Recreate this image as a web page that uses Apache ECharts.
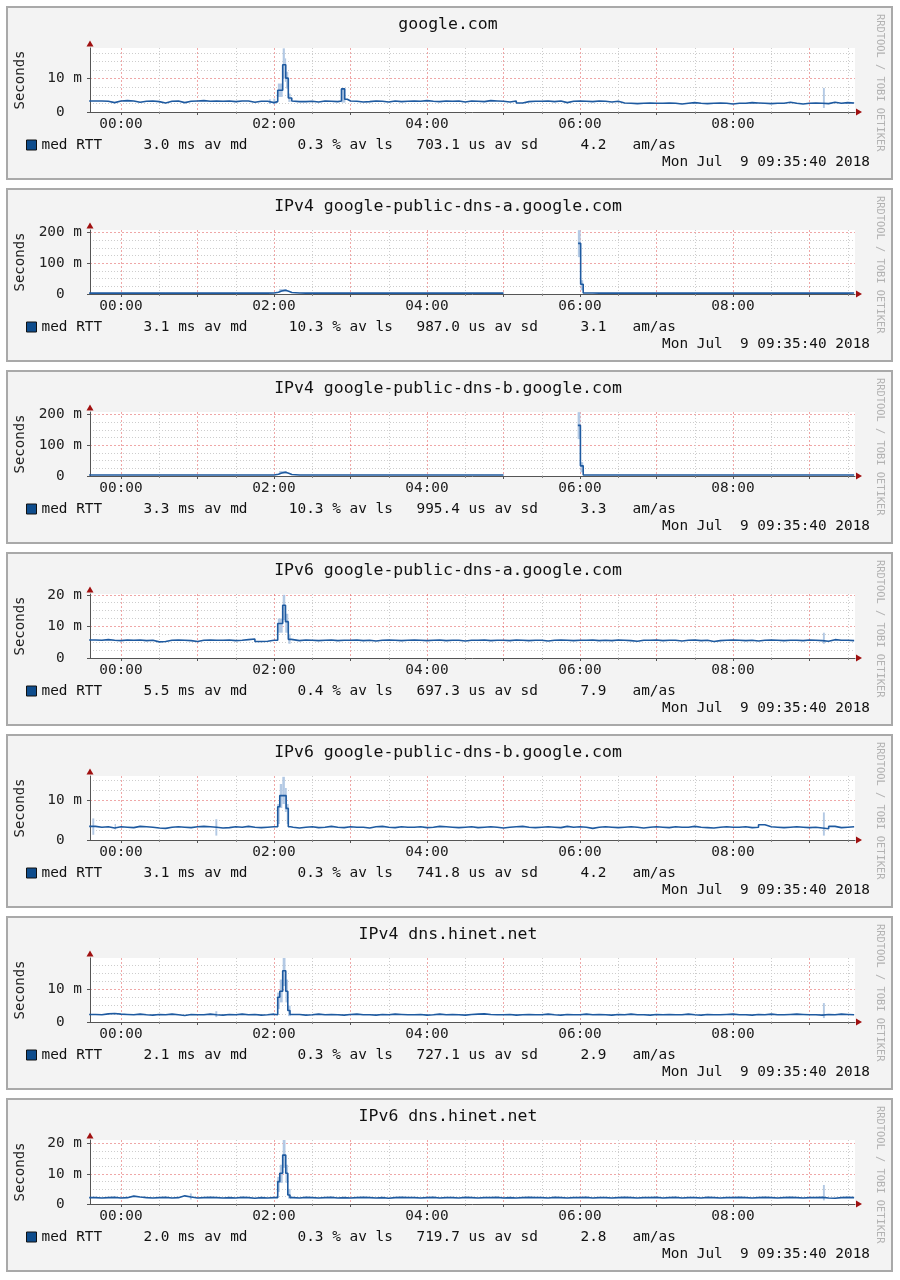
<!DOCTYPE html>
<html><head><meta charset="utf-8">
<script src="https://cdn.jsdelivr.net/npm/echarts@6/dist/echarts.min.js"></script>
<style>html,body{margin:0;padding:0;background:#fff}#c{width:900px;height:1280px}</style>
</head><body><div id="c"></div><script>
// ---------- data ----------
const titles = ['google.com','IPv4 google-public-dns-a.google.com','IPv4 google-public-dns-b.google.com',
  'IPv6 google-public-dns-a.google.com','IPv6 google-public-dns-b.google.com','IPv4 dns.hinet.net','IPv6 dns.hinet.net'];
const dateText = 'Mon Jul  9 09:35:40 2018';
// legend stats: median ms, loss %, stddev us, am/as
const stats = [['3.0','0.3','703.1','4.2'],['3.1','10.3','987.0','3.1'],['3.3','10.3','995.4','3.3'],
  ['5.5','0.4','697.3','7.9'],['3.1','0.3','741.8','4.2'],['2.1','0.3','727.1','2.9'],['2.0','0.3','719.7','2.8']];
// x: minutes since 00:00 (window 23:35:40 .. 09:35:40)
const X_MIN = -24.333, X_MAX = 575.667;
const hourTicks = [0,60,120,180,240,300,360,420,480,540];
const halfHourTicks = [30,90,150,210,270,330,390,450,510,570];
const labelTicks = [0,120,240,360,480];
// y scales (ms)
const yMax = [19.1,208.5,208.5,20.25,16,19.6,21.2];
const yMajor = [[0,10],[0,100,200],[0,100,200],[0,10,20],[0,10],[0,10],[0,10,20]];
const yMinor = [[2.5,5,7.5,12.5,15,17.5],[25,50,75,125,150,175],[25,50,75,125,150,175],
  [2.5,5,7.5,12.5,15,17.5],[2.5,5,7.5,12.5,15],[2.5,5,7.5,12.5,15,17.5],[2.5,5,7.5,12.5,15,17.5]];
// sample times (minutes)
const sampleMinutes = [-25,-20,-15,-10,-5,0,5,10,15,20,25,30,35,40,45,50,55,60,65,70,75,80,85,90,95,100,105,110,115,120,
  125,130,135,140,145,150,155,160,165,170,175,180,185,190,195,200,205,210,215,220,225,230,235,240,245,250,255,260,265,270,
  275,280,285,290,295,300,305,310,315,320,325,330,335,340,345,350,355,360,365,370,375,380,385,390,395,400,405,410,415,420,
  425,430,435,440,445,450,455,460,465,470,475,480,485,490,495,500,505,510,515,520,525,530,535,540,545,550,555,560,565,570,575];
const N = null;
const med1 = [3.3,3.3,3.2,2.8,3.3,3.4,3.3,2.9,3.2,3.3, 3.1,2.7,3.2,3.3,2.8,3.2,3.3,3.4,3.2,3.3,
  3.2,3.3,3.1,3.3,3.3,2.9,3.2,3.2,2.8,3.1, 3.2,3.2,3.3,3.1,3.2,3.0,3.3,3.2,3.1,3.3,
  3.4,3.2,3.0,3.1,3.3,3.2,3.0,3.3,3.1,3.2, 3.3,3.2,3.4,3.2,3.1,3.3,3.2,3.3,3.0,3.3,
  3.2,3.1,3.4,3.3,3.2,3.0,3.3,2.7,3.1,3.2, 3.2,3.3,3.1,3.3,2.8,3.2,3.3,3.2,3.1,3.3,
  3.2,3.0,3.2,2.7,2.6,2.5,2.6,2.7,2.6,2.6, 2.7,2.6,2.4,2.6,2.8,2.6,2.5,2.6,2.7,2.6,
  2.4,2.6,2.6,2.8,2.7,2.6,2.5,2.6,2.6,2.9, 2.6,2.4,2.6,2.7,2.6,2.5,2.9,2.6,2.8,2.7,2.7];
const med2 = [3.0,2.9,3.1,3.0,2.8,3.0,3.1,2.9,3.0,3.0, 3.1,3.0,2.9,3.0,3.2,3.0,2.9,3.1,3.0,2.9,
  3.0,3.1,3.0,2.9,3.0,3.0,3.2,3.0,3.1,3.3, 3.5,3.2,3.1,3.0,2.9,3.0,3.1,3.0,2.9,3.0,
  3.0,3.1,2.9,3.0,3.0,3.1,3.0,2.9,3.0,3.1, 3.0,3.0,2.9,3.1,3.0,3.0,3.1,2.9,3.0,3.0,
  3.1,3.0,2.9,3.0,3.0,N,N,N,N,N, N,N,N,N,N,N,N,3.0,3.1,3.0,
  2.9,3.0,3.1,3.0,3.0,2.9,3.0,3.1,3.0,3.0, 3.1,3.0,2.9,3.0,3.0,3.1,3.0,2.9,3.0,3.0,
  3.0,3.1,3.0,2.9,3.0,3.0,3.1,3.0,3.0,2.9, 3.0,3.1,3.0,3.0,2.9,3.0,3.1,3.0,3.0,3.1,3.0];
const med3 = [3.3,3.2,3.4,3.3,3.1,3.3,3.4,3.2,3.3,3.3, 3.4,3.3,3.2,3.3,3.5,3.3,3.2,3.4,3.3,3.2,
  3.3,3.4,3.3,3.2,3.3,3.3,3.5,3.3,3.4,3.6, 3.8,3.5,3.4,3.3,3.2,3.3,3.4,3.3,3.2,3.3,
  3.3,3.4,3.2,3.3,3.3,3.4,3.3,3.2,3.3,3.4, 3.3,3.3,3.2,3.4,3.3,3.3,3.4,3.2,3.3,3.3,
  3.4,3.3,3.2,3.3,3.3,N,N,N,N,N, N,N,N,N,N,N,N,3.3,3.4,3.3,
  3.2,3.3,3.4,3.3,3.3,3.2,3.3,3.4,3.3,3.3, 3.4,3.3,3.2,3.3,3.3,3.4,3.3,3.2,3.3,3.3,
  3.3,3.4,3.3,3.2,3.3,3.3,3.4,3.3,3.3,3.2, 3.3,3.4,3.3,3.3,3.2,3.3,3.4,3.3,3.3,3.4,3.3];
const med4 = [5.7,5.6,5.8,5.6,5.5,5.7,5.6,5.7,5.5,5.6, 5.1,5.2,5.6,5.7,5.6,5.5,5.2,5.6,5.7,5.6,
  5.6,5.7,5.5,5.6,5.8,6.0,5.2,5.3,5.6,5.6, 5.6,5.6,5.5,5.7,5.6,5.5,5.6,5.7,5.5,5.6,
  5.6,5.7,5.5,5.6,5.4,5.6,5.7,5.6,5.5,5.6, 5.7,5.6,5.5,5.6,5.7,5.5,5.6,5.6,5.4,5.6,
  5.6,5.7,5.5,5.6,5.6,5.5,5.7,5.6,5.5,5.6, 5.6,5.4,5.6,5.7,5.6,5.5,5.6,5.6,5.7,5.5,
  5.6,5.5,5.7,5.6,5.5,5.3,5.6,5.6,5.7,5.5, 5.6,5.6,5.4,5.6,5.7,5.5,5.6,5.2,5.5,5.6,
  5.7,5.6,5.5,5.6,5.4,5.6,5.7,5.6,5.5,5.6, 5.6,5.5,5.7,5.6,5.5,5.3,5.8,5.6,5.6,5.5,5.6];
const med5 = [3.4,3.2,3.3,3.0,3.3,3.2,3.1,3.4,3.3,3.2, 3.0,2.9,3.2,3.3,3.2,3.1,3.3,3.4,3.3,3.2,
  3.0,3.1,3.3,3.2,3.4,3.2,3.1,3.2,3.3,3.3, 3.2,3.2,3.0,3.2,3.3,3.1,3.2,3.4,3.2,3.1,
  3.3,3.2,3.2,3.0,3.3,3.4,3.2,3.1,3.3,3.2, 3.2,3.3,3.1,3.2,3.4,3.3,3.2,3.1,3.2,3.3,
  3.1,3.2,3.3,3.2,3.0,3.2,3.3,3.4,3.2,3.1, 3.2,3.3,3.2,3.1,3.4,3.2,3.3,3.2,2.9,3.2,
  3.3,3.2,3.1,3.2,3.3,3.2,3.0,3.2,3.3,3.2, 3.1,3.3,3.2,3.2,3.4,3.2,3.1,3.0,3.2,3.3,
  3.2,3.2,3.3,3.1,3.2,3.8,3.3,3.2,3.1,3.2, 3.3,3.2,3.1,3.2,3.0,2.8,3.4,3.1,3.2,3.3,3.2];
const med6 = [2.3,2.2,2.5,2.6,2.4,2.3,2.2,2.4,2.2,2.1, 2.3,2.2,2.4,2.2,2.0,2.3,2.2,2.2,2.4,2.2,
  2.1,2.3,2.2,2.4,2.2,2.3,2.1,2.2,2.4,2.2, 2.2,2.2,2.3,2.1,2.2,2.4,2.2,2.3,2.2,2.1,
  2.3,2.4,2.2,2.2,2.1,2.3,2.2,2.4,2.3,2.2, 2.2,2.3,2.1,2.2,2.4,2.2,2.3,2.2,2.1,2.3,
  2.4,2.5,2.3,2.2,2.2,2.3,2.1,2.2,2.3,2.2, 2.2,2.4,2.2,2.1,2.3,2.2,2.2,2.4,2.2,2.3,
  2.2,2.1,2.3,2.2,2.4,2.2,2.2,2.1,2.3,2.2, 2.3,2.2,2.2,2.4,2.2,2.1,2.3,2.2,2.2,2.3,
  2.4,2.2,2.2,2.1,2.3,2.2,2.4,2.2,2.2,2.3, 2.4,2.3,2.2,2.2,2.1,2.3,2.2,2.4,2.3,2.2,2.2];
const med7 = [2.1,2.0,2.1,2.2,2.0,2.1,2.6,2.3,2.1,2.0, 2.1,2.2,2.0,2.1,2.7,2.3,2.0,2.1,2.2,2.1,
  2.0,2.1,2.0,2.2,2.1,1.9,2.1,2.0,2.1,2.1, 2.1,2.1,2.0,2.2,2.1,2.0,2.1,2.2,2.0,2.1,
  2.0,2.1,2.2,2.1,2.0,2.1,1.9,2.1,2.2,2.1, 2.1,2.0,2.1,2.2,2.0,2.1,2.1,2.0,2.2,2.1,
  2.0,2.1,2.1,2.2,2.0,2.1,2.0,2.1,2.2,2.1, 2.1,2.0,2.2,2.1,2.0,2.1,2.1,2.2,2.0,2.1,
  2.1,2.0,2.1,2.2,2.1,2.0,2.1,2.1,2.2,2.0, 2.1,2.2,2.0,2.1,2.1,2.0,2.2,2.1,2.0,2.1,
  2.1,2.2,2.1,2.0,2.1,2.2,2.1,2.0,2.1,2.2, 2.1,2.0,2.1,2.1,2.2,2.0,1.9,2.1,2.2,2.1,2.1];
// spike episodes: [minute, median ms] (replace the regular samples in their window)
const spikes1 = [[[122.9,6.5],[126.8,14.1],[129.2,10.1],[131.2,4.2],[133.9,3.3],[135,3.1]],
                 [[172.9,6.9],[175.4,3.8],[177.5,3.3]]];
const spikes2 = [[[121,5.5],[123.5,9.5],[126,12.5],[129,9.0],[131.5,5.0],[134,3.1]],
                 [[358.5,165],[360.5,32],[362.5,3.2]]];
const spikes3 = [[[121,5.5],[123.5,9.5],[126,12.5],[129,9.0],[131.5,5.0],[134,3.3]],
                 [[358.3,165],[360.3,33],[362.5,3.4]]];
const spikes4 = [[[122.9,10.9],[126.8,16.7],[129.0,11.5],[131.2,5.9],[133.5,5.6]]];
const spikes5 = [[[122.9,8.3],[124.5,11.1],[129.5,7.9],[131.2,3.3],[133,3.2]]];
const spikes6 = [[[122.9,7.6],[124.5,9.4],[126.8,15.7],[129.2,9.4],[130.8,3.5],[132.5,2.3]]];
const spikes7 = [[[122.9,7.4],[124.5,10.2],[126.8,16.2],[129.2,10.2],[130.8,3.0],[132.5,2.1]]];
// smoke (ping spread): [from min, to min, low ms, high ms]
const smoke1 = [[116,117.5,2.4,3.8],[119.5,121,2.3,4.0],[123,126.8,4.5,8.5],[126.8,128.5,10,19.0],[128.5,129.5,9,16],
  [129.5,131.2,7,12],[131.2,133,3,5.5],[173,176,2.8,7.2],[550.5,552,1.2,7.2]];
const smoke2 = [[124,130,8,16],[358.3,360.5,120,208],[360.5,362.5,12,45]];
const smoke3 = [[124,130,8,16],[358.1,360.3,120,208],[360.3,362.5,12,45]];
const smoke4 = [[123,126.8,8,12.5],[126.8,128.8,12,20.0],[128.8,131.2,8,14],[131.2,133,4.5,7.5],[550.5,552,4.5,8.0]];
const smoke5 = [[-22.5,-21,1.3,5.4],[-5,-4,2.6,4.0],[74,75.5,1.1,5.2],[122.5,124.5,4,9],[124.5,126.5,8,14],
  [126.5,128.5,9,15.8],[128.5,130,7,13],[130,131.5,4,9],[550.5,552,1.1,6.9]];
const smoke6 = [[74,75.5,1.5,3.3],[122.5,124.5,4,9],[124.5,126.8,6,13],[126.8,129,11,19.6],[129,131,6,13],
  [131,133,1.8,5],[550.5,552,1.2,5.8]];
const smoke7 = [[54,55.5,1.5,3.5],[122.5,124.5,4,9],[124.5,126.8,7,13],[126.8,129,12,21.2],[129,131,7,13],
  [131,133,1.8,5],[550.5,552,1.2,6.3]];

const meds = [med1,med2,med3,med4,med5,med6,med7];
const spikes = [spikes1,spikes2,spikes3,spikes4,spikes5,spikes6,spikes7];
const smokes = [smoke1,smoke2,smoke3,smoke4,smoke5,smoke6,smoke7];

// ---------- layout ----------
const panelTops = [7,189,371,553,735,917,1099];
const MONO = "'DejaVu Sans Mono', 'Liberation Mono', monospace";
const LINE = '#1e5aa0', SMOKE = '#b3c9e4';
const MAJOR = 'rgba(225,95,95,0.55)', MINOR = '#cdcdcd', AXIS = '#555';

function buildLine(base, groups) {
  const pts = [];
  sampleMinutes.forEach((t, i) => {
    if (groups.some(g => t >= g[0][0] && t <= g[g.length - 1][0])) return;
    pts.push([t, base[i]]);
  });
  groups.forEach(g => g.forEach(p => pts.push(p)));
  pts.sort((a, b) => a[0] - b[0]);
  return pts;
}
function pad5(s) { return ('     ' + s).slice(-5); }
function legendText(s) {
  return '{a|med RTT}{b|' + pad5(s[0]) + ' ms av md}{c|' + pad5(s[1]) + ' % av ls}{d|' + pad5(s[2]) +
    ' us av sd}{e|' + pad5(s[3]) + '}{f|am/as}';
}
function fmtHour(v) { const h = Math.round(v / 60); return (h < 10 ? '0' : '') + h + ':00'; }
function renderSmoke(params, api) {
  const a = api.coord([api.value(0), api.value(3)]);
  const b = api.coord([api.value(1), api.value(2)]);
  return { type: 'rect', shape: { x: a[0], y: a[1], width: Math.max(b[0] - a[0], 1.2), height: b[1] - a[1] },
    style: { fill: SMOKE } };
}
const legFont = { fontFamily: MONO, fontSize: 14.4, color: '#111' };
const legRich = {
  a: Object.assign({ width: 84.7 }, legFont), b: Object.assign({ width: 154 }, legFont),
  c: Object.assign({ width: 136.3 }, legFont), d: Object.assign({ width: 146.7 }, legFont),
  e: Object.assign({ width: 69.3 }, legFont), f: Object.assign({}, legFont)
};

const grids = [], xAxes = [], yAxes = [], series = [], legends = [], graphics = [];
titles.forEach((title, p) => {
  const T = panelTops[p];
  graphics.push({ type: 'rect', z: -10, shape: { x: 7, y: T, width: 885, height: 172 },
    style: { fill: '#f3f3f3', stroke: '#a9a9a9', lineWidth: 2 } });
  graphics.push({ type: 'text', z: 100, x: 448, y: T + 17.3,
    style: { text: title, font: '16.5px ' + MONO, fill: '#111', textAlign: 'center', align: 'center',
      textVerticalAlign: 'middle', verticalAlign: 'middle' } });
  graphics.push({ type: 'text', z: 100, x: 870, y: T + 155,
    style: { text: dateText, font: '14.4px ' + MONO, fill: '#111', textAlign: 'right', align: 'right',
      textVerticalAlign: 'middle', verticalAlign: 'middle' } });
  graphics.push({ type: 'text', z: 100, x: 880, y: T + 7, rotation: -Math.PI / 2,
    style: { text: 'RRDTOOL / TOBI OETIKER', font: '10.4px ' + MONO, fill: '#b2b2b2', textAlign: 'left', align: 'left',
      textVerticalAlign: 'middle', verticalAlign: 'middle' } });

  grids.push({ left: 90, top: T + 41, width: 765, height: 64, show: true, backgroundColor: '#fff', borderWidth: 0 });

  xAxes.push({ type: 'value', gridIndex: p, min: X_MIN, max: X_MAX, position: 'bottom',
    axisLine: { show: true, onZero: false, lineStyle: { color: AXIS, width: 1 } },
    axisTick: { show: true, customValues: hourTicks, length: 3, lineStyle: { color: AXIS } },
    axisLabel: { show: true, customValues: labelTicks, formatter: fmtHour, margin: 5,
      fontFamily: MONO, fontSize: 14.4, color: '#222' },
    splitLine: { show: true, lineStyle: { color: MAJOR, type: [2, 2], width: 1 } } });
  xAxes.push({ type: 'value', gridIndex: p, min: X_MIN, max: X_MAX, position: 'bottom',
    axisLine: { show: true, onZero: false, symbol: ['none', 'triangle'], symbolSize: [7, 6], symbolOffset: [0, 4],
      lineStyle: { color: '#a01010', width: 0 } },
    axisTick: { show: true, customValues: halfHourTicks, length: 2, lineStyle: { color: '#888' } },
    axisLabel: { show: false },
    splitLine: { show: true, lineStyle: { color: MINOR, type: [1, 2], width: 1 } } });

  yAxes.push({ type: 'value', gridIndex: p, min: 0, max: yMax[p], position: 'left',
    name: 'Seconds', nameLocation: 'middle', nameRotate: 90, nameGap: 63,
    nameTextStyle: { fontFamily: MONO, fontSize: 14, color: '#222' },
    axisLine: { show: true, onZero: false, lineStyle: { color: AXIS, width: 1 } },
    axisTick: { show: true, customValues: yMajor[p], length: 3, lineStyle: { color: AXIS } },
    axisLabel: { customValues: yMajor[p], formatter: v => (v === 0 ? '0  ' : v + ' m'), margin: 8,
      fontFamily: MONO, fontSize: 14.4, color: '#222' },
    splitLine: { show: true, showMinLine: false, lineStyle: { color: MAJOR, type: [2, 2], width: 1 } } });
  yAxes.push({ type: 'value', gridIndex: p, min: 0, max: yMax[p], position: 'left',
    axisLine: { show: true, onZero: false, symbol: ['none', 'triangle'], symbolSize: [7, 6], symbolOffset: [0, 4.5],
      lineStyle: { color: '#a01010', width: 0 } },
    axisTick: { show: false, customValues: yMinor[p] },
    axisLabel: { show: false },
    splitLine: { show: true, lineStyle: { color: MINOR, type: [1, 2], width: 1 } } });

  series.push({ type: 'custom', name: 'smoke', xAxisIndex: 2 * p, yAxisIndex: 2 * p, clip: true, z: 1, silent: true,
    renderItem: renderSmoke, encode: { x: [0, 1], y: [2, 3] }, data: smokes[p] });
  series.push({ type: 'line', name: 'med RTT', xAxisIndex: 2 * p, yAxisIndex: 2 * p, step: 'end',
    symbol: 'none', showSymbol: false, clip: true, silent: true, z: 3,
    lineStyle: { color: LINE, width: 1.6 }, itemStyle: { color: LINE },
    data: buildLine(meds[p], spikes[p]) });

  legends.push({ left: 26, top: T + 131, padding: 0, itemWidth: 10, itemHeight: 10, selectedMode: false,
    data: [{ name: 'med RTT', icon: 'rect', itemStyle: { color: '#0e4c8c', borderColor: '#111', borderWidth: 1 } }],
    formatter: () => legendText(stats[p]),
    textStyle: Object.assign({ rich: legRich }, legFont) });
});

const chart = echarts.init(document.getElementById('c'), null, { renderer: 'canvas' });
chart.setOption({
  backgroundColor: '#fff', animation: false,
  grid: grids, xAxis: xAxes, yAxis: yAxes, series: series, legend: legends, graphic: { elements: graphics }
});
</script></body></html>
